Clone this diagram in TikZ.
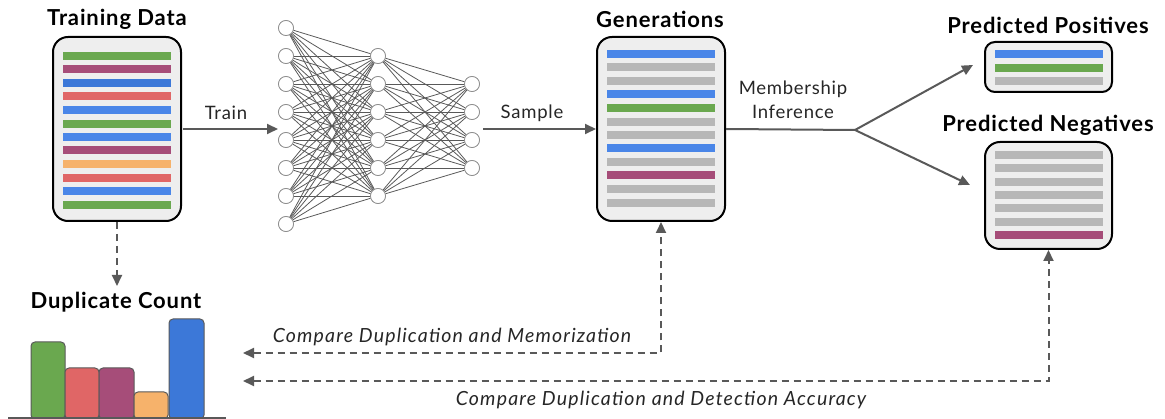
\documentclass[tikz,border=0pt]{standalone}
\usepackage{fontspec}
\setmainfont{Lato}
\newfontfamily\titlefont[LetterSpace=4]{Lato}
\newfontfamily\labfont[LetterSpace=4]{Lato}
\newfontfamily\ilabfont[LetterSpace=6]{Lato}
\usetikzlibrary{arrows.meta}
\definecolor{cgreen}{HTML}{6AA84F}
\definecolor{cpurple}{HTML}{A64D79}
\definecolor{cblue}{HTML}{4A86E8}
\definecolor{cdblue}{HTML}{3C78D8}
\definecolor{cred}{HTML}{E06666}
\definecolor{corange}{HTML}{F6B26B}
\definecolor{cgray}{HTML}{B7B7B7}
\definecolor{boxfill}{HTML}{EEEEEE}
\definecolor{arrgray}{HTML}{595959}
\begin{document}
\begin{tikzpicture}[x=1pt,y=-1pt,
  databox/.style={draw=black, line width=2pt, fill=boxfill, rounded corners=15pt, inner sep=0pt},
  neuron/.style={circle, draw=black!45, fill=white, line width=0.7pt, minimum size=15pt, inner sep=0pt},
  nnedge/.style={draw=black!65, line width=0.8pt},
  arr/.style={draw=arrgray, line width=2pt, -{Triangle[length=11pt,width=10pt]}},
  plain/.style={draw=arrgray, line width=2pt},
  darr/.style={draw=arrgray, line width=2pt, dash pattern=on 7pt off 5pt},
  title/.style={font=\titlefont\bfseries\fontsize{22}{25}\selectfont, inner sep=0pt},
  lab/.style={font=\labfont\fontsize{18.5}{22}\selectfont, inner sep=0pt, text=black!85},
  ilab/.style={font=\ilabfont\itshape\fontsize{19.5}{22}\selectfont, inner sep=0pt, text=black!85},
  hbar/.style={inner sep=0pt, minimum height=8pt, minimum width=108pt},
  cbar/.style={draw=black!65, line width=1pt, rounded corners=4pt}
]
\useasboundingbox (0,0) rectangle (1165,419);

% ---------- Training data
\node[title] (ttrain) at (117,19) {Training Data};
\node[databox, minimum width=128pt, minimum height=184pt] (train) at (117,129) {};
\foreach \y/\c [count=\i] in {56/cgreen,69/cpurple,83/cdblue,96/cred,110/cblue,124/cgreen,137/cblue,150/cpurple,164/corange,178/cred,191/cblue,205/cgreen}
  \node[hbar, fill=\c] (tb\i) at (117,\y) {};

% ---------- Neural network
\foreach \y [count=\i] in {28,56,84,112,140,168,196,224}
  \node[neuron] (a\i) at (286,\y) {};
\foreach \y [count=\i] in {56,84,112,140,168,196}
  \node[neuron] (b\i) at (378,\y) {};
\foreach \y [count=\i] in {84,112,140,168}
  \node[neuron] (c\i) at (472,\y) {};
\foreach \i in {1,...,8}
  \foreach \j in {1,...,6}
    \draw[nnedge] (a\i) -- (b\j);
\foreach \i in {1,...,6}
  \foreach \j in {1,...,4}
    \draw[nnedge] (b\i) -- (c\j);
\foreach \y in {28,56,84,112,140,168,196,224}
  \node[neuron] at (286,\y) {};
\foreach \y in {56,84,112,140,168,196}
  \node[neuron] at (378,\y) {};
\foreach \y in {84,112,140,168}
  \node[neuron] at (472,\y) {};

% ---------- Train arrow
\coordinate (nnin) at (278,129);
\draw[arr] (train.east) ++(1,0) -- (nnin);
\node[lab] (ltrain) at (226,113) {Train};

% ---------- Generations
\node[title] (tgen) at (660,19) {Generations};
\node[databox, minimum width=128pt, minimum height=184pt] (gen) at (661,129) {};
\foreach \y/\c [count=\i] in {54/cblue,67/cgray,81/cgray,94/cblue,108/cgreen,122/cgray,135/cgray,148/cblue,162/cgray,175/cpurple,189/cgray,203/cgray}
  \node[hbar, fill=\c] (gb\i) at (661,\y) {};

\coordinate (nnout) at (483,129);
\draw[arr] (nnout) -- (gen.west);
\node[lab] (lsample) at (532,113) {Sample};

% ---------- Membership inference
\coordinate (split) at (855,130);
\draw[plain] (gen.east) -- (split);
\node[lab, align=center, font=\labfont\fontsize{18.5}{24}\selectfont] (lmi) at (793,100) {Membership\\Inference};

% ---------- Predicted positives
\node[title] (tpos) at (1048,25) {Predicted Positives};
\node[databox, minimum width=127pt, minimum height=50pt, rounded corners=10pt] (pos) at (1048.5,67) {};
\foreach \y/\c [count=\i] in {54/cblue,68/cgreen,81/cgray}
  \node[hbar, fill=\c] (pb\i) at (1049,\y) {};

% ---------- Predicted negatives
\node[title] (tneg) at (1048,125) {Predicted Negatives};
\node[databox, minimum width=127pt, minimum height=107pt] (neg) at (1048.5,195.5) {};
\foreach \y/\c [count=\i] in {155/cgray,168/cgray,182/cgray,195/cgray,208/cgray,222/cgray,235/cpurple}
  \node[hbar, fill=\c] (nb\i) at (1049,\y) {};

\coordinate (ptip) at (973,65);
\coordinate (ntip) at (970,185);
\draw[arr] (split) -- (ptip);
\draw[arr] (split) -- (ntip);

% ---------- Duplicate count
\coordinate (dtip) at (117,286);
\draw[darr, -{Triangle[length=11pt,width=10pt]}] (train.south) -- (dtip);
\node[title] (tdup) at (116,302) {Duplicate Count};
\draw[cbar, fill=cgreen]  (31,419) rectangle (65,342);
\draw[cbar, fill=cred]    (65,419) rectangle (99,368);
\draw[cbar, fill=cpurple] (99,419) rectangle (134,368);
\draw[cbar, fill=corange] (134,419) rectangle (168,392);
\draw[cbar, fill=cdblue]  (169,419) rectangle (204,319);
\draw[draw=black!65, line width=1.5pt] (8,418) -- (226,418);

% ---------- Comparison arrows
\coordinate (cmp1) at (243,353);
\coordinate (cmp2) at (243,381);
\draw[darr, {Triangle[length=11pt,width=10pt]}-{Triangle[length=11pt,width=10pt]}] (cmp1) -| (gen.south);
\draw[darr, {Triangle[length=11pt,width=10pt]}-{Triangle[length=11pt,width=10pt]}] (cmp2) -| (neg.south);
\node[ilab] (lmem) at (452,337) {Compare Duplication and Memorization};
\node[ilab] (ldet) at (661,400) {Compare Duplication and Detection Accuracy};
\end{tikzpicture}
\end{document}
